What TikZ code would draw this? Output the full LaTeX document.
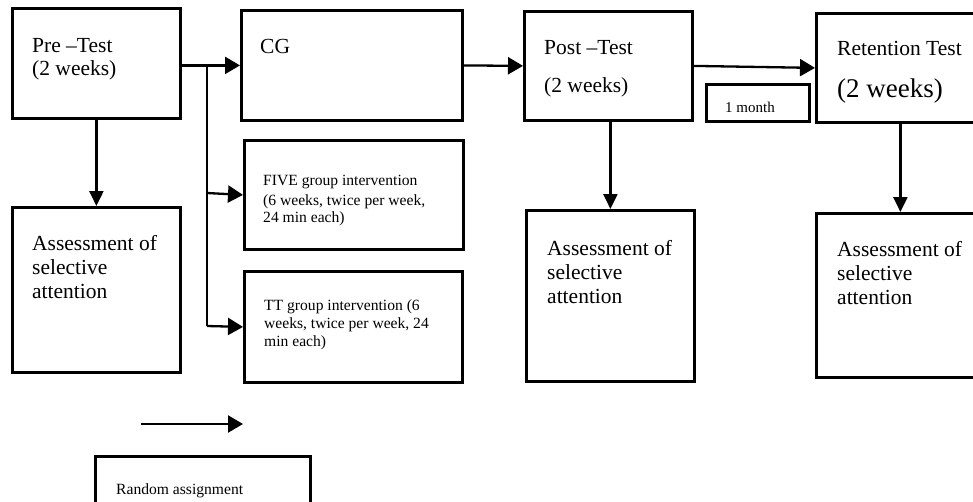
\documentclass[tikz,border=0pt]{standalone}
\usepackage{fontspec}
\setmainfont{Liberation Serif}
\usetikzlibrary{arrows.meta}
\begin{document}
\begin{tikzpicture}[x=1pt,y=-1pt,
  box/.style={draw=black,line width=2.8pt,rectangle,inner sep=0pt,anchor=north west},
  bigtxt/.style={inner sep=0pt,anchor=base west,align=left,font=\fontsize{21.5}{24}\selectfont},
  smalltxt/.style={inner sep=0pt,anchor=base west,align=left,font=\fontsize{15.6}{17.5}\selectfont},
  arr/.style={line width=2.3pt,-{Triangle[length=15pt,width=17pt]}},
  darr/.style={line width=2.3pt,-{Triangle[length=15pt,width=14pt]}},
  thinline/.style={line width=1.1pt}]
\useasboundingbox (0,0) rectangle (973,501);
\clip (0,0) rectangle (973,501);
% boxes
\node[box,minimum width=168pt,minimum height=110pt] (pre) at (11,7) {};
\node[box,minimum width=221pt,minimum height=110pt] (cg) at (240,9) {};
\node[box,minimum width=219pt,minimum height=109pt] (five) at (243,139) {};
\node[box,minimum width=218pt,minimum height=111pt] (tt) at (243,270) {};
\node[box,minimum width=168pt,minimum height=165pt] (a1) at (11,206) {};
\node[box,minimum width=168pt,minimum height=109pt] (post) at (523,10) {};
\node[box,minimum width=168pt,minimum height=171pt] (a2) at (525,209) {};
\node[box,minimum width=168pt,minimum height=109pt] (ret) at (815,12) {};
\node[box,minimum width=168pt,minimum height=164pt] (a3) at (815,212) {};
\node[box,minimum width=103pt,minimum height=37pt] (month) at (705,83) {};
\node[box,minimum width=215pt,minimum height=70pt] (rand) at (94,455) {};
% texts (anchor = baseline of last line)
\node[bigtxt,font=\fontsize{21.5}{23}\selectfont] (pretxt) at (32,75) {Pre –Test\\(2 weeks)};
\node[bigtxt] (cgtxt) at (260,53) {CG};
\node[smalltxt,font=\fontsize{15.6}{17}\selectfont] (fivetxt) at (263,222) {FIVE group intervention\\[3pt](6 weeks, twice per week,\\24 min each)};
\node[smalltxt,font=\fontsize{15.6}{18}\selectfont] (tttxt) at (264,346) {TT group intervention (6\\weeks, twice per week, 24\\min each)};
\node[bigtxt] (a1txt) at (32,298) {Assessment of\\selective\\attention};
\node[bigtxt] (posttxt) at (544,92) {Post –Test\\[14pt](2 weeks)};
\node[bigtxt] (a2txt) at (547,303) {Assessment of\\selective\\attention};
\node[bigtxt] (rettxt) at (837,55) {Retention Test};
\node[inner sep=0pt,anchor=base west,font=\fontsize{27}{30}\selectfont] (retwk) at (837,97) {(2 weeks)};
\node[bigtxt] (a3txt) at (837,304) {Assessment of\\selective\\attention};
\node[inner sep=0pt,anchor=base west,font=\fontsize{15}{17}\selectfont] (monthtxt) at (725,112) {1 month};
\node[smalltxt] (randtxt) at (116,494) {Random assignment};
% connectors
\coordinate (brtop) at (207,65);
\coordinate (brbot) at (207,326);
\coordinate (brfive) at (207,193);
\coordinate (legA) at (141,424);
\coordinate (legB) at (243,424);
\draw[arr] (pre.east |- cg.west) -- (cg.west);
\draw[thinline] (brtop) -- (brbot);
\draw[arr] (brfive) -- (five.west);
\draw[arr] (brbot) -- (tt.west);
\draw[arr] (cg.east) -- (post.west);
\draw[arr] (post.east) -- (ret.west);
\draw[darr] (pre.south) -- (a1.north);
\draw[darr] (a2.north |- post.south) -- (a2.north);
\draw[darr] (a3.north |- ret.south) -- (a3.north);
\draw[arr] (legA) -- (legB);
\end{tikzpicture}
\end{document}
